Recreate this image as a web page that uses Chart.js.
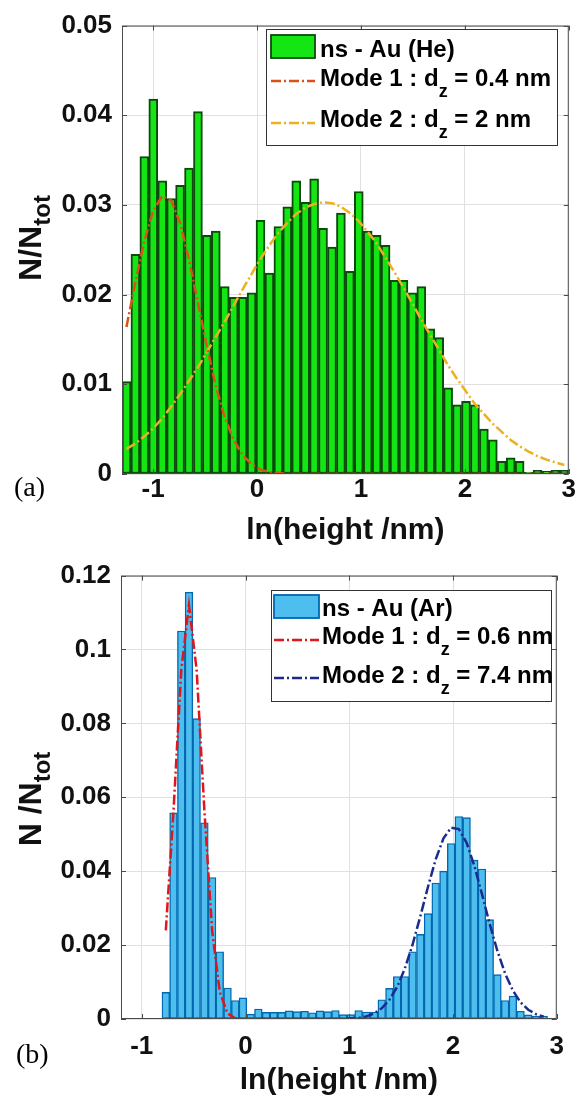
<!DOCTYPE html>
<html>
<head>
<meta charset="utf-8">
<script src="https://cdn.jsdelivr.net/npm/chart.js@4.4.1/dist/chart.umd.min.js"></script>
<style>
  html, body { margin: 0; padding: 0; background: #fff; }
  .panel { position: absolute; left: 0; width: 576px; }
  #wrapA { top: 0; height: 550px; }
  #wrapB { top: 550px; height: 551px; }
</style>
</head>
<body>
<div class="panel" id="wrapA"><canvas id="chartA" width="576" height="550"></canvas></div>
<div class="panel" id="wrapB"><canvas id="chartB" width="576" height="551"></canvas></div>
<script>
const xTickVals = [-1, 0, 1, 2, 3];
const xTickText = ["-1", "0", "1", "2", "3"];

// (a) ns - Au (He), bin centres in ln(height/nm)
const heCenters = [-1.257, -1.171, -1.085, -0.999, -0.913, -0.827, -0.741, -0.655, -0.569, -0.483,
    -0.397, -0.311, -0.225, -0.139, -0.053, 0.033, 0.119, 0.205, 0.291, 0.377,
    0.463, 0.549, 0.635, 0.721, 0.807, 0.893, 0.979, 1.065, 1.151, 1.237,
    1.323, 1.409, 1.495, 1.581, 1.667, 1.753, 1.839, 1.925, 2.011, 2.097,
    2.183, 2.269, 2.355, 2.441, 2.527, 2.613, 2.699, 2.785, 2.871, 2.957];
const heCounts = [0.0103, 0.0245, 0.0354, 0.0418, 0.0327, 0.0307, 0.0322, 0.0341, 0.0404, 0.0266,
    0.0271, 0.0209, 0.0197, 0.0197, 0.0202, 0.0283, 0.0224, 0.0276, 0.0298, 0.0327,
    0.0303, 0.0329, 0.0274, 0.0253, 0.0291, 0.0226, 0.0315, 0.0271, 0.0266, 0.0255,
    0.0216, 0.0216, 0.0202, 0.0209, 0.0162, 0.0152, 0.0096, 0.0077, 0.0081, 0.0077,
    0.0050, 0.0038, 0.0014, 0.0018, 0.0014, 0.0002, 0.0004, 0.0003, 0.0004, 0.0004];
const heMode1 = [0.0164, 0.0214, 0.0260, 0.0294, 0.0310, 0.0305, 0.0280, 0.0239, 0.0191, 0.0142,
    0.0098, 0.0063, 0.0038, 0.0021, 0.0011, 0.0005, 0.0002, 0.0001, 0, 0,
    0, 0, 0, 0, 0, 0, 0, 0, 0, 0,
    0, 0, 0, 0, 0, 0, 0, 0, 0, 0,
    0, 0, 0, 0, 0, 0, 0, 0, 0, 0];
const heMode2 = [0.0028, 0.0034, 0.0042, 0.0051, 0.0062, 0.0075, 0.0089, 0.0104, 0.0119, 0.0136,
    0.0153, 0.0170, 0.0188, 0.0206, 0.0223, 0.0240, 0.0255, 0.0269, 0.0280, 0.0290,
    0.0297, 0.0301, 0.0303, 0.0302, 0.0298, 0.0291, 0.0282, 0.0270, 0.0257, 0.0241,
    0.0225, 0.0208, 0.0190, 0.0172, 0.0155, 0.0138, 0.0121, 0.0106, 0.0092, 0.0078,
    0.0067, 0.0056, 0.0047, 0.0038, 0.0031, 0.0025, 0.0020, 0.0016, 0.0013, 0.0010];
const heYTicks = [0, 0.01, 0.02, 0.03, 0.04, 0.05];
const heYText = ["0", "0.01", "0.02", "0.03", "0.04", "0.05"];

// (b) ns - Au (Ar)
const arCenters = [-0.768, -0.694, -0.619, -0.545, -0.471, -0.396, -0.322, -0.248, -0.173, -0.099,
    -0.025, 0.050, 0.124, 0.198, 0.273, 0.347, 0.421, 0.496, 0.570, 0.644,
    0.718, 0.793, 0.867, 0.941, 1.016, 1.090, 1.164, 1.239, 1.313, 1.387,
    1.462, 1.536, 1.610, 1.685, 1.759, 1.833, 1.908, 1.982, 2.056, 2.131,
    2.205, 2.279, 2.354, 2.428, 2.502, 2.577, 2.651, 2.725, 2.800, 2.874];
const arCounts = [0.0072, 0.0558, 0.1050, 0.1155, 0.0813, 0.0531, 0.0383, 0.0182, 0.0084, 0.0050,
    0.0057, 0.0013, 0.0027, 0.0018, 0.0018, 0.0018, 0.0022, 0.0020, 0.0021, 0.0017,
    0.0022, 0.0020, 0.0023, 0.0012, 0.0012, 0.0023, 0.0019, 0.0019, 0.0052, 0.0083,
    0.0115, 0.0115, 0.0182, 0.0229, 0.0285, 0.0368, 0.0400, 0.0475, 0.0548, 0.0545,
    0.0430, 0.0406, 0.0269, 0.0120, 0.0050, 0.0062, 0.0021, 0.0011, 0.0008, 0.0008];
const arMode1 = [0.0240, 0.0563, 0.0945, 0.1120, 0.0945, 0.0563, 0.0240, 0.0073, 0.0015, 0.0002,
    0, 0, 0, 0, 0, 0, 0, 0, 0, 0,
    0, 0, 0, 0, 0, 0, 0, 0, 0, 0,
    0, 0, 0, 0, 0, 0, 0, 0, 0, 0,
    0, 0, 0, 0, 0, 0, 0, 0, 0, 0];
const arMode2 = [0, 0, 0, 0, 0, 0, 0, 0, 0, 0,
    0, 0, 0, 0, 0, 0, 0, 0, 0, 0,
    0, 0, 0, 0, 0.0002, 0.0003, 0.0007, 0.0015, 0.0029, 0.0052,
    0.0087, 0.0137, 0.0201, 0.0278, 0.0358, 0.0432, 0.0489, 0.0518, 0.0514, 0.0477,
    0.0415, 0.0338, 0.0257, 0.0184, 0.0123, 0.0077, 0.0045, 0.0025, 0.0013, 0.0006];
const arYTicks = [0, 0.02, 0.04, 0.06, 0.08, 0.1, 0.12];
const arYText = ["0", "0.02", "0.04", "0.06", "0.08", "0.1", "0.12"];

const FONT = '"Liberation Sans", Arial, sans-serif';
const pts = (xs, ys) => xs.map((x, i) => ({x: x, y: ys[i]}));

// text with "_sub" parts drawn as subscripts, returns width
function richText(ctx, text, x, y, size, subSize, drop, draw) {
    const parts = text.split(/_(\w+)/);
    let cx = x;
    parts.forEach((p, i) => {
        const sub = i % 2 === 1;
        ctx.font = "bold " + (sub ? subSize : size) + "px " + FONT;
        if (draw) ctx.fillText(p, cx, sub ? y + drop : y);
        cx += ctx.measureText(p).width;
    });
    return cx - x;
}

function makeDecor(d) {
    return {
        id: "decor",
        afterDatasetsDraw(chart) {
            const {ctx, chartArea: a, scales: {x, y}} = chart;
            ctx.save();
            ctx.strokeStyle = "#4a4a4a";
            ctx.lineWidth = 1;
            ctx.strokeRect(a.left + 0.5, a.top + 0.5, a.right - a.left - 1, a.bottom - a.top - 1);
            ctx.beginPath();
            x.ticks.forEach(t => {
                const px = Math.round(x.getPixelForValue(t.value)) + 0.5;
                ctx.moveTo(px, a.bottom); ctx.lineTo(px, a.bottom - 5);
                ctx.moveTo(px, a.top); ctx.lineTo(px, a.top + 5);
            });
            y.ticks.forEach(t => {
                const py = Math.round(y.getPixelForValue(t.value)) + 0.5;
                ctx.moveTo(a.left, py); ctx.lineTo(a.left + 5, py);
                ctx.moveTo(a.right, py); ctx.lineTo(a.right - 5, py);
            });
            ctx.stroke();
            ctx.restore();
        },
        afterDraw(chart) {
            const ctx = chart.ctx;
            const ds = chart.data.datasets;
            ctx.save();
            // legend box
            const b = d.box;
            ctx.fillStyle = "#fff";
            ctx.fillRect(b[0], b[1], b[2] - b[0], b[3] - b[1]);
            ctx.strokeStyle = "#333";
            ctx.lineWidth = 1;
            ctx.strokeRect(b[0] + 0.5, b[1] + 0.5, b[2] - b[0], b[3] - b[1]);
            const bar = ds[2];
            ctx.fillStyle = bar.backgroundColor;
            ctx.fillRect(d.symX[0], d.rect[0], d.symX[1] - d.symX[0], d.rect[1] - d.rect[0]);
            ctx.strokeStyle = bar.borderColor;
            ctx.lineWidth = 1.8;
            ctx.strokeRect(d.symX[0], d.rect[0], d.symX[1] - d.symX[0], d.rect[1] - d.rect[0]);
            [0, 1].forEach(k => {
                ctx.strokeStyle = ds[k].borderColor;
                ctx.lineWidth = ds[k].borderWidth;
                ctx.setLineDash(ds[k].borderDash);
                ctx.beginPath();
                ctx.moveTo(d.symX[0], d.lineY[k]);
                ctx.lineTo(d.symX[1], d.lineY[k]);
                ctx.stroke();
            });
            ctx.setLineDash([]);
            ctx.fillStyle = "#000";
            ctx.textBaseline = "alphabetic";
            ctx.textAlign = "left";
            richText(ctx, bar.label, d.textX, d.base[0], 24, 18, 11, true);
            richText(ctx, ds[0].label, d.textX, d.base[1], 24, 18, 11, true);
            richText(ctx, ds[1].label, d.textX, d.base[2], 24, 18, 11, true);
            // y axis title
            ctx.save();
            ctx.translate(d.yTitle[0], d.yTitle[1]);
            ctx.rotate(-Math.PI / 2);
            ctx.fillStyle = "#111";
            const w = richText(ctx, d.yTitleText, 0, 0, 32, 24, 9, false);
            richText(ctx, d.yTitleText, -w / 2, 11, 32, 24, 9, true);
            ctx.restore();
            // panel letter
            ctx.font = '28px "Liberation Serif", "Times New Roman", serif';
            ctx.fillStyle = "#000";
            ctx.textBaseline = "middle";
            ctx.fillText(d.letter, d.letterPos[0], d.letterPos[1]);
            ctx.restore();
        }
    };
}

function buildChart(id, c) {
    return new Chart(document.getElementById(id), {
        type: "bar",
        data: {
            datasets: [
                {type: "line", label: c.m1Label, data: pts(c.x, c.m1), borderColor: c.c1, borderWidth: 2.5,
                    borderDash: [10, 3, 2, 3], pointRadius: 0, fill: false, tension: 0, order: 0},
                {type: "line", label: c.m2Label, data: pts(c.x, c.m2), borderColor: c.c2, borderWidth: 2.5,
                    borderDash: [10, 3, 2, 3], pointRadius: 0, fill: false, tension: 0, order: 1},
                {type: "bar", label: c.barLabel, data: pts(c.x, c.counts), backgroundColor: c.fill,
                    borderColor: c.edge, borderWidth: c.edgeW, borderSkipped: false,
                    barPercentage: 1, categoryPercentage: 1, order: 2}
            ]
        },
        options: {
            responsive: false,
            animation: false,
            devicePixelRatio: 1,
            layout: {padding: c.pad},
            plugins: {legend: {display: false}, tooltip: {enabled: false}},
            scales: {
                x: {
                    type: "linear", min: c.xmin, max: 3, offset: false,
                    afterBuildTicks: s => { s.ticks = xTickVals.map(v => ({value: v})); },
                    afterFit: s => { s.height = c.xH; },
                    grid: {color: "#e0e0e0", drawTicks: false, offset: false},
                    border: {display: false},
                    ticks: {
                        padding: c.xTickPad, color: "#111", maxRotation: 0,
                        font: {family: FONT, size: 26, weight: "bold"},
                        callback: v => xTickText[xTickVals.indexOf(v)]
                    },
                    title: {
                        display: true, text: "ln(height /nm)", color: "#111",
                        font: {family: FONT, size: 30, weight: "bold"},
                        padding: {top: 0, bottom: c.xTitlePad}
                    }
                },
                y: {
                    type: "linear", min: 0, max: c.ymax,
                    afterBuildTicks: s => { s.ticks = c.yTicks.map(v => ({value: v})); },
                    afterFit: s => { s.width = c.yW; },
                    grid: {color: "#e0e0e0", drawTicks: false},
                    border: {display: false},
                    ticks: {
                        padding: 10, color: "#111",
                        font: {family: FONT, size: 26, weight: "bold"},
                        callback: v => c.yText[c.yTicks.indexOf(v)]
                    }
                }
            }
        },
        plugins: [makeDecor(c.decor)]
    });
}

buildChart("chartA", {
    x: heCenters, counts: heCounts, m1: heMode1, m2: heMode2,
    barLabel: "ns - Au (He)", m1Label: "Mode 1 : d_z = 0.4 nm", m2Label: "Mode 2 : d_z = 2 nm",
    fill: "#14e614", edge: "#0a4a0a", edgeW: 2, c1: "#d95319", c2: "#edb120",
    xmin: -1.3, ymax: 0.05, yTicks: heYTicks, yText: heYText,
    pad: {left: 0, top: 12, right: 5, bottom: 0}, xH: 76, yW: 122, xTickPad: 0, xTitlePad: 1,
    decor: {
        box: [266, 29, 557, 145], symX: [271, 315], rect: [35, 58], lineY: [81, 123],
        textX: 320, base: [57, 86, 127],
        yTitle: [30, 238], yTitleText: "N/N_tot",
        letter: "(a)", letterPos: [14, 489]
    }
});

buildChart("chartB", {
    x: arCenters, counts: arCounts, m1: arMode1, m2: arMode2,
    barLabel: "ns - Au (Ar)", m1Label: "Mode 1 : d_z = 0.6 nm", m2Label: "Mode 2 : d_z = 7.4 nm",
    fill: "#4dbeee", edge: "#0067b0", edgeW: 1.4, c1: "#e0161b", c2: "#1c2a8e",
    xmin: -1.2, ymax: 0.12, yTicks: arYTicks, yText: arYText,
    pad: {left: 0, top: 25, right: 9, bottom: 0}, xH: 82, yW: 121, xTickPad: 12, xTitlePad: 2,
    decor: {
        box: [271, 40, 551, 151], symX: [274, 319], rect: [45, 68], lineY: [90, 128],
        textX: 322, base: [66, 94, 133],
        yTitle: [30, 249], yTitleText: "N /N_tot",
        letter: "(b)", letterPos: [16, 506]
    }
});
</script>
</body>
</html>
